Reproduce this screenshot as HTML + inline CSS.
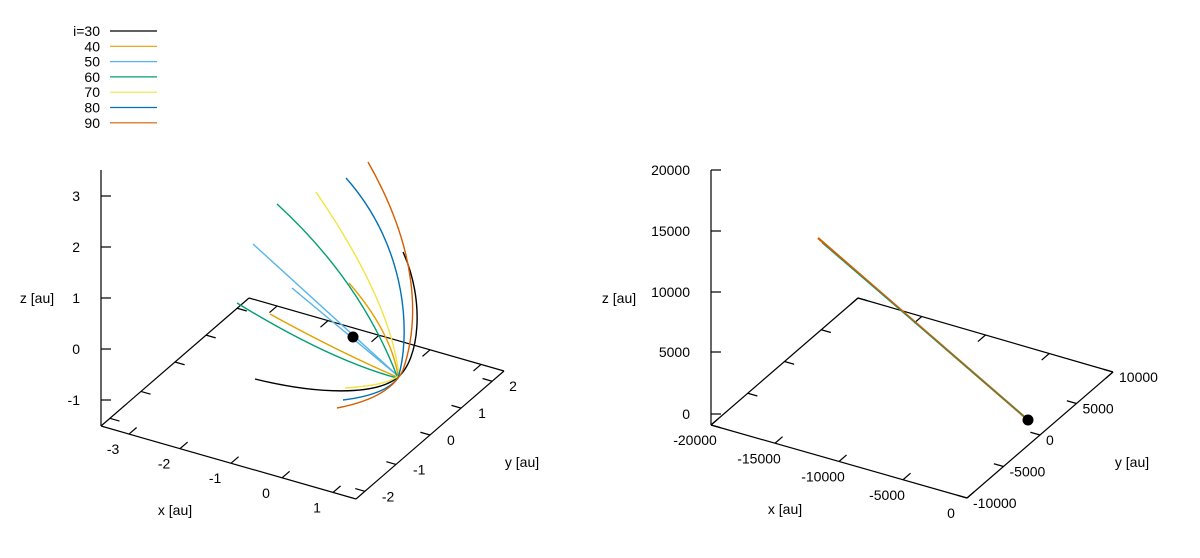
<!DOCTYPE html>
<html><head><meta charset="utf-8"><style>
html,body{margin:0;padding:0;background:#fff;}
svg{display:block;font-family:"Liberation Sans",sans-serif;font-size:14px;}
</style></head><body>
<svg id="s" width="1200" height="558" viewBox="0 0 1200 558" xmlns="http://www.w3.org/2000/svg">
<g id="g" stroke-width="1.2" fill="none"></g>
<g id="t" fill="#000"></g>
</svg>
<script>
var g=document.getElementById('g'),t=document.getElementById('t');
function L(x1,y1,x2,y2,c,w){g.insertAdjacentHTML('beforeend','<line x1="'+x1+'" y1="'+y1+'" x2="'+x2+'" y2="'+y2+'" stroke="'+(c||'#000')+'" stroke-width="'+(w||1.2)+'"/>');}
function P(d,c){g.insertAdjacentHTML('beforeend','<path d="'+d+'" stroke="'+c+'" stroke-width="1.4" fill="none"/>');}
function T(x,y,s,a){t.insertAdjacentHTML('beforeend','<text x="'+x+'" y="'+y+'" text-anchor="'+(a||'middle')+'">'+s+'</text>');}
var cols=['#000','#e69f00','#56b4e9','#009e73','#f0e442','#0072b2','#d55e00'];
var labs=['i=30','40','50','60','70','80','90'];
for(var i=0;i<7;i++){var y=31+i*15.3;T(100,y+5,labs[i],'end');L(110,y,157,y,cols[i]);}
function box(FL,BL,BR,FR,zx,zt,zb,zticks,zlab,xlab,ylab,xl,yl,yoff){
  L(zx,zt,zx,zb,'#000');
  zticks.forEach(function(z){L(zx,z[0],zx+10,z[0]);T(zx-21,z[0]+5,z[1],'end');});
  L(FL[0],FL[1],BL[0],BL[1]);L(BL[0],BL[1],BR[0],BR[1]);L(BR[0],BR[1],FR[0],FR[1]);L(FR[0],FR[1],FL[0],FL[1]);
  var yd=[BL[0]-FL[0],BL[1]-FL[1]],yn=Math.hypot(yd[0],yd[1]);yd=[yd[0]/yn*10,yd[1]/yn*10];
  var xd=[FL[0]-FR[0],FL[1]-FR[1]],xn=Math.hypot(xd[0],xd[1]);xd=[xd[0]/xn*10,xd[1]/xn*10];
  for(var i=0;i<xl.length;i++){var f=xl[i][0];
    var a=[FL[0]+(FR[0]-FL[0])*f,FL[1]+(FR[1]-FL[1])*f],b=[BL[0]+(BR[0]-BL[0])*f,BL[1]+(BR[1]-BL[1])*f];
    L(a[0],a[1],a[0]+yd[0],a[1]+yd[1]);L(b[0],b[1],b[0]-yd[0],b[1]-yd[1]);
    T(a[0]-16,a[1]+20,xl[i][1]);}
  for(var i=0;i<yl.length;i++){var f=yl[i][0];
    var a=[FR[0]+(BR[0]-FR[0])*f,FR[1]+(BR[1]-FR[1])*f],b=[FL[0]+(BL[0]-FL[0])*f,FL[1]+(BL[1]-FL[1])*f];
    L(a[0],a[1],a[0]+xd[0],a[1]+xd[1]);L(b[0],b[1],b[0]-xd[0],b[1]-xd[1]);
    T(a[0]+yoff,a[1]+10,yl[i][1],'start');}
  T(zlab[0],zlab[1],'z [au]');T(xlab[0],xlab[1],'x [au]');T(ylab[0],ylab[1],'y [au]');
}
box([101,426],[249,298],[504,371],[356,499],101,170,426,
 [[196,'3'],[247,'2'],[298,'1'],[349,'0'],[400,'-1']],[37,303],[175,515],[522,467],
 [[0.11,'-3'],[0.31,'-2'],[0.51,'-1'],[0.71,'0'],[0.91,'1']],
 [[0.06,'-2'],[0.27,'-1'],[0.5,'0'],[0.71,'1'],[0.92,'2']],17);
box([711,425],[858,298],[1113,372],[967,498],711,170,425,
 [[170,'20000'],[231,'15000'],[292,'10000'],[352,'5000'],[414,'0']],[619,303],[785,514],[1132,467],
 [[0,'-20000'],[0.25,'-15000'],[0.5,'-10000'],[0.75,'-5000'],[1,'0']],
 [[0,'-10000'],[0.25,'-5000'],[0.5,'0'],[0.75,'5000'],[1,'10000']],6);
P('M255,379 C320,395 375,395 397,378 C420,360 425,300 403,252','#000');
P('M270,314 Q335,350 397,377','#e69f00');P('M349,283 Q390,330 398,375','#e69f00');
P('M253,244 L398,376','#56b4e9');P('M292,288 L398,376','#56b4e9');
P('M237,303 Q330,360 397,378','#009e73');P('M277,204 Q360,280 397,376','#009e73');
P('M345,388 Q390,385 399,375','#f0e442');P('M316,192 Q390,300 399,375','#f0e442');
P('M343,400 Q385,395 398,378 C410,340 410,250 346,178','#0072b2');
P('M337,408 Q390,398 403,370 C420,320 418,250 368,162','#d55e00');
g.insertAdjacentHTML('beforeend','<circle cx="353" cy="337" r="5.5" fill="#000" stroke="none"/>');
L(818,238,1028,420,'#d55e00',2.2);L(822,243,1026,418,'#009e73',0.8);
g.insertAdjacentHTML('beforeend','<circle cx="1028" cy="420" r="5.5" fill="#000" stroke="none"/>');
</script>
</body></html>
